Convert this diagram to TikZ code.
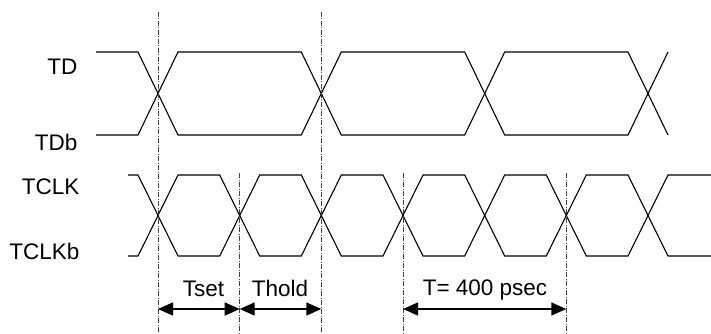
\documentclass[tikz,border=0pt]{standalone}
\usepackage{fontspec}
\setmainfont{Liberation Sans}
\usetikzlibrary{arrows.meta}
\tikzset{
	wave/.style={line width=1.1pt},
	guide/.style={line width=0.9pt, black!75, dash pattern=on 5pt off 1.5pt on 1pt off 1.5pt},
	dim/.style={line width=1.4pt, {Triangle[length=15pt,width=13pt]}-{Triangle[length=15pt,width=13pt]}},
	lbl/.style={font=\fontsize{22.5}{27}\selectfont, inner sep=0pt},
}
\begin{document}
\begin{tikzpicture}[x=1pt,y=-1pt]
	\useasboundingbox (0,0) rectangle (711,334);
	% signal names
	\node[lbl, anchor=base east] (td) at (77.5,74.5) {TD};
	\node[lbl, anchor=base east] (tdb) at (77.5,150.5) {TDb};
	\node[lbl, anchor=base east] (tclk) at (79.5,194.5) {TCLK};
	\node[lbl, anchor=base east] (tclkb) at (79.5,259) {TCLKb};
	% data pair
	\draw[wave] (96,52) -- (138,52) -- (158,93.5) -- (138,135) -- (96,135);
	\foreach \a/\b in {158/321.3, 321.3/484.7, 484.7/648}
		\draw[wave] (\a,93.5) -- (\a+20,52) -- (\b-20,52) -- (\b,93.5) -- (\b-20,135) -- (\a+20,135) -- cycle;
	\draw[wave] (668,52) -- (648,93.5) -- (668,135);
	% clock pair
	\draw[wave] (128,175) -- (138,175) -- (158,215.5) -- (138,256) -- (128,256);
	\foreach \a/\b in {158/239.7, 239.7/321.3, 321.3/403, 403/484.7, 484.7/566.3, 566.3/648}
		\draw[wave] (\a,215.5) -- (\a+20,175) -- (\b-20,175) -- (\b,215.5) -- (\b-20,256) -- (\a+20,256) -- cycle;
	\draw[wave] (711,175) -- (668,175) -- (648,215.5) -- (668,256) -- (711,256);
	% timing marks
	\foreach \x in {158, 321.3}
		\draw[guide] (\x,12) -- (\x,334);
	\foreach \x in {239.7, 403, 566.3}
		\draw[guide] (\x,173) -- (\x,334);
	\coordinate (c1) at (158,309);
	\coordinate (c2) at (239.7,309);
	\coordinate (c3) at (321.3,309);
	\coordinate (c4) at (403,309);
	\coordinate (c5) at (566.3,309);
	\draw[dim] (c1) -- (c2);
	\draw[dim] (c2) -- (c3);
	\draw[dim] (c4) -- (c5);
	\node[lbl, anchor=base] (tset) at (203.5,296) {Tset};
	\node[lbl, anchor=base] (thold) at (280,296) {Thold};
	\node[lbl, anchor=base] (tper) at (485,295) {T= 400 psec};
\end{tikzpicture}
\end{document}
